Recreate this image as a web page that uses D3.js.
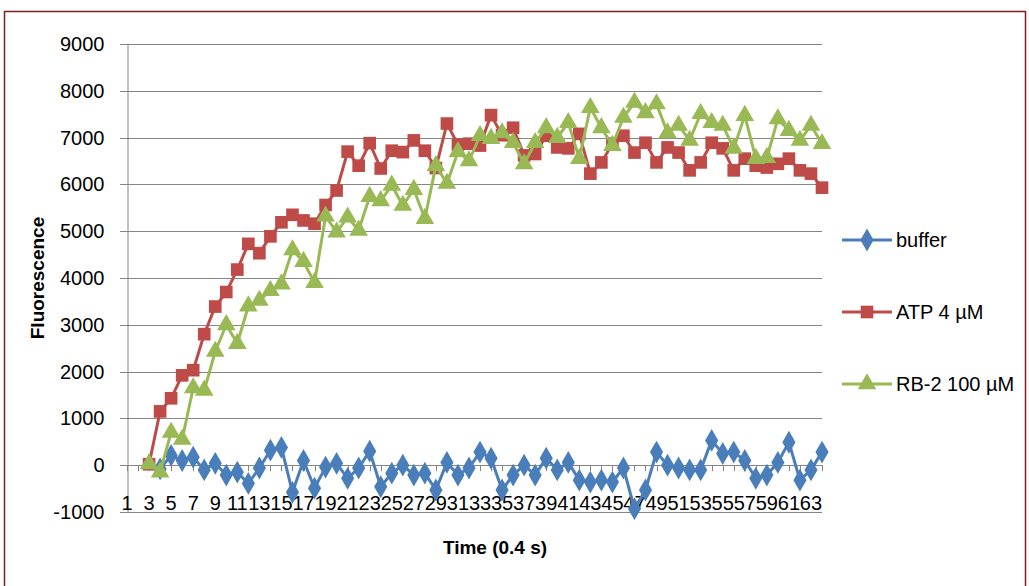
<!DOCTYPE html>
<html>
<head>
<meta charset="utf-8">
<script src="https://cdn.jsdelivr.net/npm/d3@7/dist/d3.min.js"></script>
<style>
  html, body { margin: 0; padding: 0; background: #fff; }
  svg { display: block; }
  text { font-family: "Liberation Sans", Arial, sans-serif; fill: #000; }
</style>
</head>
<body>
<svg id="chart" width="1029" height="586"></svg>
<script>
// Time points (0.4 s each)
const categories = [1,2,3,4,5,6,7,8,9,10,11,12,13,14,15,16,17,18,19,20,21,22,23,24,25,26,27,28,29,30,31,32,
  33,34,35,36,37,38,39,40,41,42,43,44,45,46,47,48,49,50,51,52,53,54,55,56,57,58,59,60,61,62,63,64];

const bufferValues = [null,null,null,-80,210,100,170,-100,40,-210,-150,-390,-60,320,380,-580,100,-490,-40,40,
  -280,-60,300,-460,-170,0,-210,-170,-530,60,-210,-60,280,150,-530,-210,0,-210,150,-100,60,-320,-360,-320,-360,
  -60,-930,-530,280,0,-60,-100,-100,530,250,280,100,-280,-210,60,490,-320,-100,280];

const atpValues = [null,null,20,1150,1430,1920,2030,2800,3390,3700,4180,4730,4530,4890,5190,5350,5230,5160,
  5560,5870,6700,6400,6880,6340,6720,6690,6940,6720,6350,7300,6850,6870,6830,7480,7050,7210,6620,6650,7040,
  6790,6770,7080,6230,6470,6870,7040,6680,6890,6470,6790,6680,6300,6470,6890,6770,6300,6550,6400,6360,6440,
  6550,6300,6230,5930];

const rb2Values = [null,null,30,-150,700,550,1650,1600,2430,3000,2600,3400,3520,3730,3870,4600,4350,3900,5320,
  4980,5300,5020,5740,5650,5980,5550,5890,5270,6400,6020,6700,6500,7040,6980,7100,6890,6440,6890,7210,7000,
  7320,6550,7640,7210,6830,7430,7750,7530,7720,7100,7260,6940,7510,7320,7260,6770,7470,6550,6570,7400,7150,
  6940,7260,6870];

const yTicks = [-1000,0,1000,2000,3000,4000,5000,6000,7000,8000,9000];
const xTickLabels = [1,3,5,7,9,11,13,15,17,19,21,23,25,27,29,31,33,35,37,39,41,43,45,47,49,51,53,55,57,59,61,63];

const seriesNames = ["buffer", "ATP 4 \u00b5M", "RB-2 100 \u00b5M"];
const seriesColors = ["#4a7ebb", "#be4b48", "#98b954"];
const seriesShapes = [d3.symbolDiamond, d3.symbolSquare, d3.symbolTriangle];
const seriesSizes = [150, 160, 150];

const series = [bufferValues, atpValues, rb2Values].map((vals, i) => ({
  name: seriesNames[i], color: seriesColors[i], shape: seriesShapes[i], size: seriesSizes[i],
  points: categories.map((c, j) => ({ c, v: vals[j] }))
}));

const svg = d3.select("#chart");

// outer chart frame
svg.append("rect")
  .attr("x", 4.5).attr("y", 11.5)
  .attr("width", 1021).attr("height", 600)
  .attr("fill", "none").attr("stroke", "#8c1c1c").attr("stroke-width", 1.5);

const x = d3.scalePoint().domain(categories).range([127, 822]).padding(0);
const y = d3.scaleLinear().domain([-1000, 9000]).range([512, 44]);

const grid = "#868686";

// horizontal gridlines with small outward ticks
svg.append("g")
  .selectAll("line").data(yTicks).join("line")
  .attr("x1", 120).attr("x2", 822)
  .attr("y1", d => Math.round(y(d)) + 0.5).attr("y2", d => Math.round(y(d)) + 0.5)
  .attr("stroke", grid).attr("stroke-width", 1);

// y axis
const yAxis = d3.axisLeft(y).tickValues(yTicks).tickSize(0).tickPadding(23)
  .tickFormat(d => String(d));
const gy = svg.append("g").attr("transform", "translate(127.5,0)").call(yAxis);
gy.select(".domain").attr("stroke", grid);
gy.selectAll("text").attr("font-size", 20).attr("fill", "#000")
  .attr("font-family", "'Liberation Sans', Arial, sans-serif");

// category axis along zero, labels at the bottom of the plot
svg.append("g")
  .selectAll("line").data(categories).join("line")
  .attr("x1", d => Math.round(x(d)) + 0.5).attr("x2", d => Math.round(x(d)) + 0.5)
  .attr("y1", y(0)).attr("y2", y(0) + 6)
  .attr("stroke", grid);

svg.append("g")
  .selectAll("text").data(xTickLabels).join("text")
  .attr("x", d => x(d)).attr("y", 510)
  .attr("text-anchor", "middle").attr("font-size", 20)
  .text(d => d);

// series lines and markers
const line = d3.line().defined(d => d.v !== null).x(d => x(d.c)).y(d => y(d.v));

series.forEach(s => {
  const g = svg.append("g");
  g.append("path").datum(s.points)
    .attr("d", line).attr("fill", "none")
    .attr("stroke", s.color).attr("stroke-width", 3).attr("stroke-linejoin", "round");
  g.selectAll("path.m").data(s.points.filter(d => d.v !== null)).join("path")
    .attr("class", "m")
    .attr("transform", d => `translate(${x(d.c)},${y(d.v)})`)
    .attr("d", d3.symbol().type(s.shape).size(s.size))
    .attr("fill", s.color);
});

// axis titles
svg.append("text")
  .attr("transform", "translate(44,278) rotate(-90)")
  .attr("text-anchor", "middle").attr("font-size", 19).attr("font-weight", "bold")
  .text("Fluorescence");

svg.append("text")
  .attr("x", 495).attr("y", 554)
  .attr("text-anchor", "middle").attr("font-size", 19).attr("font-weight", "bold")
  .text("Time (0.4 s)");

// legend
const legendY = [240, 312, 384];
const lg = svg.append("g");
series.forEach((s, i) => {
  const row = lg.append("g").attr("transform", `translate(0,${legendY[i]})`);
  row.append("line").attr("x1", 842).attr("x2", 892).attr("y1", 0).attr("y2", 0)
    .attr("stroke", s.color).attr("stroke-width", 3);
  row.append("path").attr("transform", "translate(867,0)")
    .attr("d", d3.symbol().type(s.shape).size(s.size)).attr("fill", s.color);
  row.append("text").attr("x", 896).attr("y", 7).attr("font-size", 20).text(s.name);
});
</script>
</body>
</html>
